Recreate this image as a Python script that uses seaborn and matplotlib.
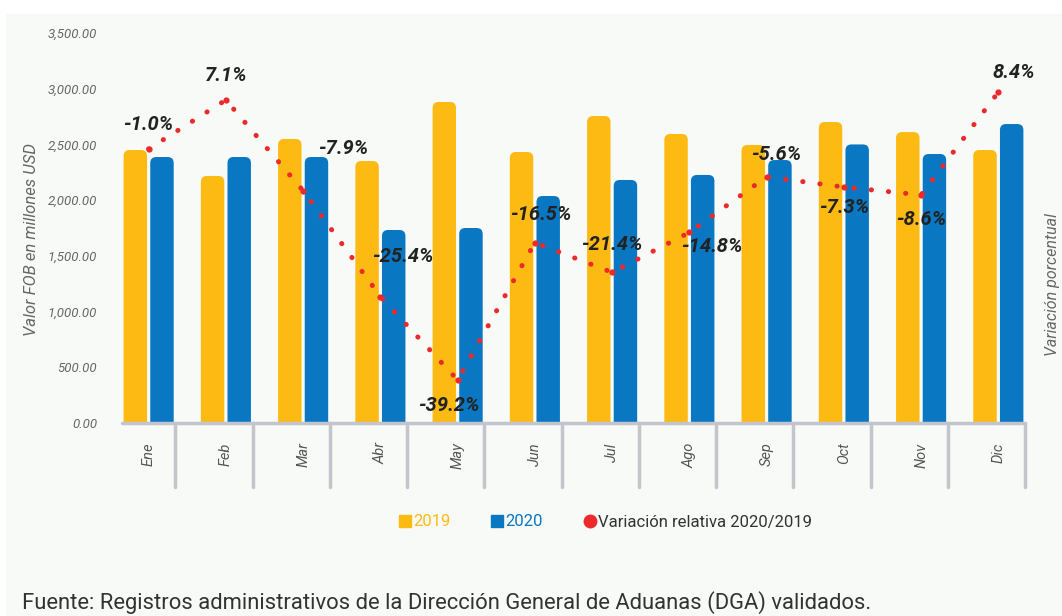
import numpy as np
import pandas as pd
import matplotlib
matplotlib.use("Agg")
import matplotlib.pyplot as plt
import seaborn as sns
from matplotlib.patches import FancyBboxPatch, Rectangle
from matplotlib.lines import Line2D
import matplotlib.transforms as mtransforms

# ---------------- data ----------------
months = ["Ene", "Feb", "Mar", "Abr", "May", "Jun", "Jul", "Ago", "Sep", "Oct", "Nov", "Dic"]
fob_2019 = [2450, 2217, 2549, 2351, 2881, 2432, 2755, 2594, 2495, 2701, 2611, 2450]
fob_2020 = [2387, 2387, 2387, 1732, 1750, 2037, 2181, 2226, 2360, 2500, 2414, 2683]
variation = [-1.0, 7.1, -7.9, -25.4, -39.2, -16.5, -21.4, -14.8, -5.6, -7.3, -8.6, 8.4]
yticks = [0, 500, 1000, 1500, 2000, 2500, 3000, 3500]

# label offsets in pixels (style only)
lab_dx = [0, 0, 40, 22, -9, 6, 0, 22, 10, 0, 0, 15]
lab_dy = [24, 24, 42, 40, -25, 28, 28, -14, 22, -20, -25, 20]

C19 = "#FDBA12"
C20 = "#0A77C2"
CRED = "#EC2A2C"
BG = "#F8FAF8"

sns.set_theme(style="white")
plt.rcParams["font.family"] = ["Roboto", "DejaVu Sans"]

df = pd.DataFrame({
    "Mes": months * 2,
    "Valor": fob_2019 + fob_2020,
    "Año": ["2019"] * len(months) + ["2020"] * len(months),
})

W, H = 1062, 616
fig = plt.figure(figsize=(W / 100, H / 100), dpi=100, facecolor="white")
fig.patches.append(Rectangle((6 / W, 0), 1, 1 - 14 / H, transform=fig.transFigure,
                             facecolor=BG, edgecolor="none", zorder=-10))

L, R, B, T = 122 / W, 1025 / W, 1 - 423 / H, 1 - 33 / H
ax = fig.add_axes([L, B, R - L, T - B])
ax.set_facecolor("none")

sns.barplot(data=df, x="Mes", y="Valor", hue="Año", palette=[C19, C20],
            width=0.69, gap=0.12, ax=ax, legend=False, saturation=1)

ax.set_xlim(-0.345, 11.345)
ax.set_ylim(0, 3500)

# rounded tops
xpx = (R - L) * W / (11.69)
ypx = (T - B) * H / 3500
rad = 6 / xpx
asp = (6 / ypx) / rad
for p in list(ax.patches):
    x0, w, h = p.get_x(), p.get_width(), p.get_height()
    fc = p.get_facecolor()
    p.remove()
    fb = FancyBboxPatch((x0, -300), w, h + 300,
                        boxstyle=f"round,pad=0,rounding_size={rad}",
                        mutation_aspect=asp, facecolor=fc, edgecolor="none", zorder=2)
    ax.add_patch(fb)

for s in ax.spines.values():
    s.set_visible(False)
ax.set_yticks(yticks)
ax.set_yticklabels([f"{v:,.2f}" for v in yticks], fontsize=9.5, fontstyle="italic", color="#666666")
ax.tick_params(axis="y", length=0, pad=18)
ax.tick_params(axis="x", length=0, pad=14)
ax.set_xticks(range(len(months)))
ax.set_xticklabels(months, rotation=90, fontsize=10.5, fontstyle="italic", color="#555555", va="top")
ax.set_xlabel("")
ax.set_ylabel("Valor FOB en millones USD", fontsize=12, fontstyle="italic", color="#666666")
ax.yaxis.set_label_coords(-0.092, 0.47)

# axis line and separators
trans = mtransforms.blended_transform_factory(ax.transData, ax.transAxes)
ax.plot([-0.345, 11.345], [0, 0], transform=trans, color="#C4C4CC", lw=2.5, clip_on=False, zorder=3)
for i in range(len(months)):
    ax.plot([i + 0.345, i + 0.345], [0, -64 / ((T - B) * H)], transform=trans,
            color="#C4C4CC", lw=2.5, clip_on=False, zorder=3)

# secondary axis
ax2 = ax.twinx()
vdf = pd.DataFrame({"pos": np.arange(len(months)), "var": variation})
sns.lineplot(data=vdf, x="pos", y="var", ax=ax2, color=CRED, lw=3.6,
             marker="o", markersize=4.5, markeredgewidth=0, zorder=4)
for line in ax2.lines:
    line.set_linestyle((0, (0.05, 3.4)))
    line.set_dash_capstyle("round")
top_v = 7.1 + 67 / 6.05
bot_v = -39.2 - 43 / 6.05
ax2.set_ylim(bot_v, top_v)
ax2.set_xlim(-0.345, 11.345)
ax2.set_yticks([])
ax2.set_xlabel("")
ax2.set_ylabel("")
for s in ax2.spines.values():
    s.set_visible(False)

for i, v in enumerate(variation):
    ax2.annotate(f"{v:.1f}%", (i, v), xytext=(lab_dx[i], lab_dy[i]), textcoords="offset pixels",
                 ha="center", va="center", fontsize=14.5, fontweight="bold", fontstyle="italic",
                 color="#222222", zorder=6)

fig.text(1053 / W, 1 - 285 / H, "Variación porcentual", rotation=90, ha="center", va="center",
         fontsize=11.5, fontstyle="italic", color="#666666")

# legend
handles = [
    Line2D([], [], marker="s", linestyle="none", color=C19, markersize=8),
    Line2D([], [], marker="s", linestyle="none", color=C20, markersize=8),
    Line2D([], [], marker="o", linestyle="none", color=CRED, markersize=9),
]
leg = fig.legend(handles, ["2019", "2020", "Variación relativa 2020/2019"], ncol=3,
                 loc="center", bbox_to_anchor=(605 / W, 1 - 522 / H), frameon=False,
                 fontsize=12, handletextpad=0.1, columnspacing=2.4, handlelength=0.8)
for t, c in zip(leg.get_texts(), [C19, C20, "#333333"]):
    t.set_color(c)

fig.text(22 / W, 1 - 603 / H,
         "Fuente: Registros administrativos de la Dirección General de Aduanas (DGA) validados.",
         ha="left", va="center", fontsize=15.8, color="#333333")

fig.savefig("out.png", dpi=100, facecolor=fig.get_facecolor())
